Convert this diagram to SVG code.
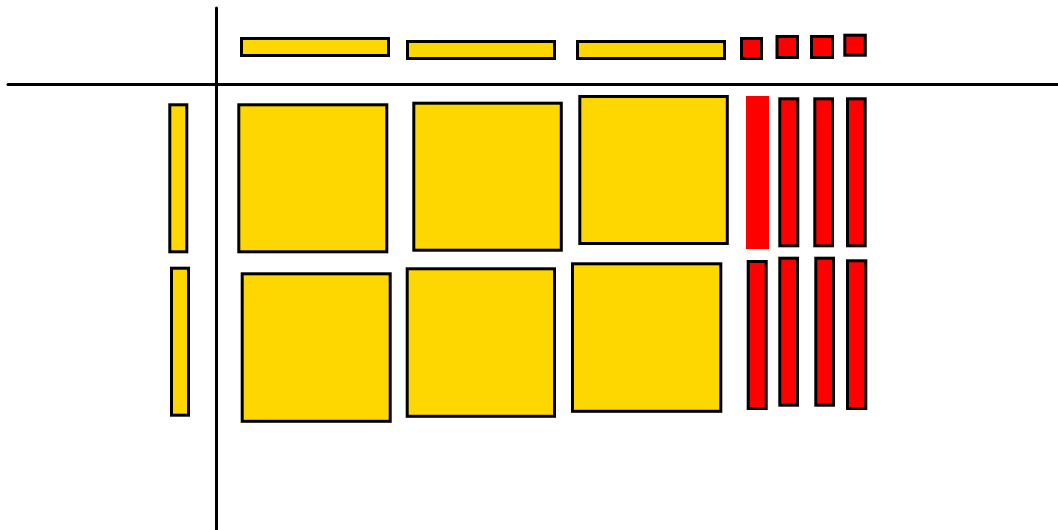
<svg xmlns="http://www.w3.org/2000/svg" width="1058" height="530" viewBox="0 0 1058 530">
<style>
.y{fill:#FFD700;stroke:#000;stroke-width:3}
.r{fill:#FF0000;stroke:#000;stroke-width:3}
.ax{stroke:#000;stroke-width:3;stroke-linecap:round;fill:none}
</style>
<rect width="1058" height="530" fill="#fff"/>
<g id="axes">
<line class="ax" x1="216.5" y1="8" x2="216.5" y2="532"/>
<line class="ax" x1="8" y1="84.5" x2="1060" y2="84.5"/>
</g>
<g id="top-bars">
<rect class="y" x="241.5" y="38.5" width="147" height="17"/>
<rect class="y" x="407.5" y="41.5" width="147" height="17"/>
<rect class="y" x="577.5" y="41.5" width="147" height="17"/>
</g>
<g id="top-squares">
<rect class="r" x="741.5" y="38.5" width="20" height="20"/>
<rect class="r" x="777" y="36.5" width="20.5" height="21"/>
<rect class="r" x="811.5" y="36.5" width="21" height="21"/>
<rect class="r" x="844.8" y="35.2" width="20.5" height="20"/>
</g>
<g id="left-bars">
<rect class="y" x="169.8" y="104.8" width="17" height="147"/>
<rect class="y" x="171.5" y="268.2" width="17" height="147"/>
</g>
<g id="squares">
<rect class="y" x="238.8" y="104.8" width="148" height="147"/>
<rect class="y" x="413.8" y="103.2" width="147.5" height="147"/>
<rect class="y" x="579.8" y="96.5" width="147.5" height="147"/>
<rect class="y" x="242.2" y="273.8" width="148" height="147.5"/>
<rect class="y" x="407.2" y="268.8" width="147.3" height="147.5"/>
<rect class="y" x="572.5" y="263.8" width="148.3" height="147.5"/>
</g>
<g id="red-bars">
<rect x="746" y="96" width="23" height="153" fill="#FF0000"/>
<rect class="r" x="779.8" y="98.8" width="18" height="147"/>
<rect class="r" x="814.8" y="98.8" width="17.7" height="147"/>
<rect class="r" x="847.5" y="98.8" width="17.7" height="147"/>
<rect class="r" x="748.2" y="261.5" width="18" height="147"/>
<rect class="r" x="779.8" y="258.2" width="17.7" height="147"/>
<rect class="r" x="815.8" y="258.2" width="17.7" height="147"/>
<rect class="r" x="847.5" y="260.8" width="18.3" height="147.7"/>
</g>
</svg>
